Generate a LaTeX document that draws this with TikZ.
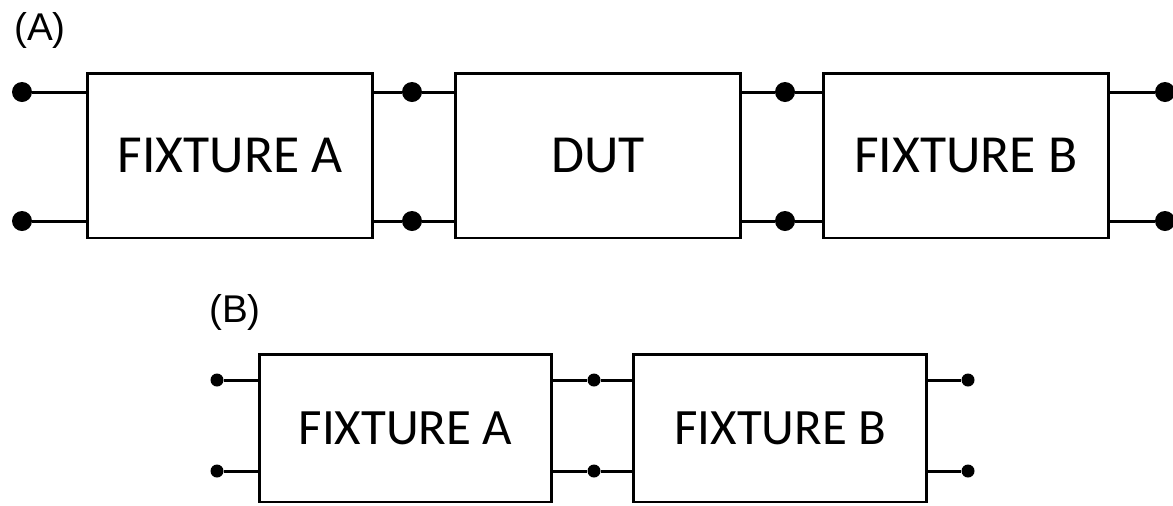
\documentclass[tikz,border=0pt]{standalone}
\usepackage{fontspec}
\newfontfamily\boxfont{Carlito}
\newfontfamily\tagfont{Liberation Sans}
\usetikzlibrary{positioning}
\tikzset{
  block/.style={draw, line width=1.7pt, inner sep=0pt,
    minimum width=5.7cm, minimum height=3.3cm,
    font=\boxfont\fontsize{30.5}{35}\selectfont},
  smallblock/.style={block, minimum width=5.86cm, minimum height=2.96cm,
    font=\boxfont\fontsize{29}{34}\selectfont},
  port/.style={circle, fill, inner sep=0pt, minimum size=0.4cm},
  smallport/.style={port, minimum size=0.26cm},
  wire/.style={line width=1.7pt},
  tag/.style={font=\tagfont\fontsize{22}{26}\selectfont}
}
\begin{document}
\begin{tikzpicture}[x=0.02cm,y=-0.02cm]
\useasboundingbox (0,0) rectangle (1173,505);
% (A) fixture A -- DUT -- fixture B
\node[tag] (tagA) at (40,30) {(A)};
\node[block] (fa) at (230,155.5) {FIXTURE A};
\node[block, right=1.6cm of fa] (dut) {DUT};
\node[block, right=1.6cm of dut] (fb) {FIXTURE B};
\foreach \n/\x in {p1/22, p2/412, p3/785, p4/1165}{
  \node[port] (\n t) at (\x,92) {};
  \node[port] (\n b) at (\x,221) {};
}
\foreach \s in {t,b}{
  \draw[wire] (p1\s) -- (p1\s -| fa.west);
  \draw[wire] (fa.east |- p2\s) -- (p2\s) -- (dut.west |- p2\s);
  \draw[wire] (dut.east |- p3\s) -- (p3\s) -- (fb.west |- p3\s);
  \draw[wire] (fb.east |- p4\s) -- (p4\s);
}
% (B) fixture A -- fixture B
\node[tag] (tagB) at (235,312) {(B)};
\node[smallblock] (fa2) at (405.5,428) {FIXTURE A};
\node[smallblock, right=1.58cm of fa2] (fb2) {FIXTURE B};
\foreach \n/\x in {q1/217, q2/594, q3/968}{
  \node[smallport] (\n t) at (\x,380) {};
  \node[smallport] (\n b) at (\x,471) {};
}
\foreach \s in {t,b}{
  \draw[wire] (q1\s) -- (q1\s -| fa2.west);
  \draw[wire] (fa2.east |- q2\s) -- (q2\s) -- (fb2.west |- q2\s);
  \draw[wire] (fb2.east |- q3\s) -- (q3\s);
}
\end{tikzpicture}
\end{document}
